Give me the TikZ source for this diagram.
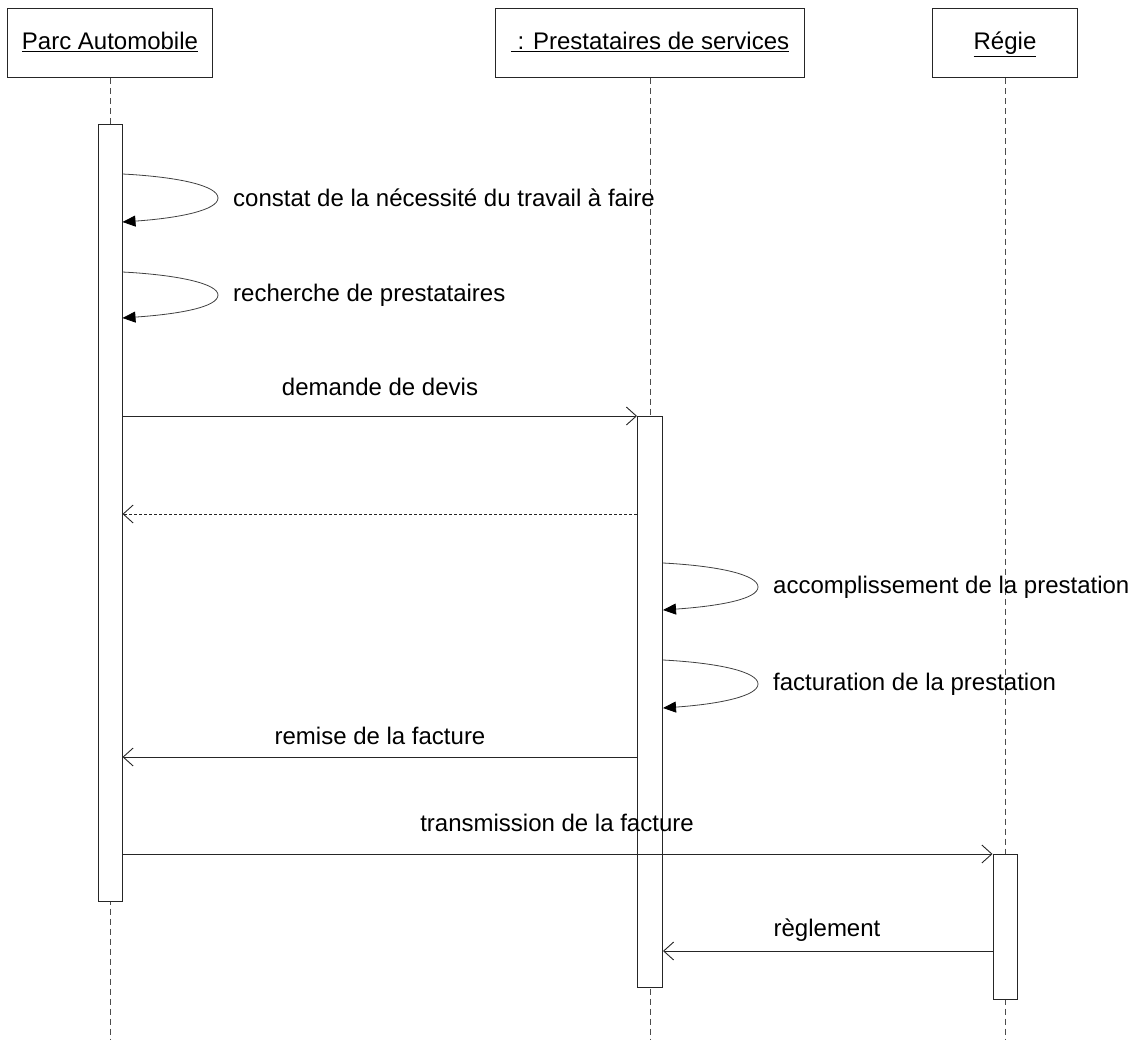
\documentclass[tikz,border=0pt]{standalone}
\usepackage{fontspec}
\setmainfont{Liberation Sans}
\usetikzlibrary{arrows.meta}
\begin{document}
\begin{tikzpicture}[x=1pt,y=-1pt,
  every node/.style={font=\fontsize{24}{28}\selectfont},
  objbox/.style={draw=black!85, line width=1pt, minimum height=69pt, inner sep=0pt, text height=17pt, text depth=5pt},
  actbar/.style={draw=black!85, fill=white, line width=1pt, minimum width=24pt, inner sep=0pt},
  lifeline/.style={draw=black!70, line width=0.8pt, dash pattern=on 6pt off 4pt},
  msg/.style={draw=black!85, line width=0.9pt, -{Straight Barb[length=10pt,width=18pt]}},
  reply/.style={msg, dash pattern=on 3pt off 2pt},
  selfmsg/.style={draw=black!75, line width=0.8pt, -{Triangle[length=13pt,width=11pt,color=black,fill=black]}},
  lbl/.style={inner sep=0pt, anchor=center},
  slbl/.style={inner sep=0pt, anchor=west}
]
\useasboundingbox (0,0) rectangle (1140,1046);

% objects
\node[objbox, minimum width=205pt] (pa) at (110,43.5) {\underline{Parc Automobile}};
\node[objbox, minimum width=309pt] (ps) at (650,43.5) {\underline{\ : Prestataires de services}};
\node[objbox, minimum width=145pt] (rg) at (1005,43.5) {\underline{Régie}};

% lifelines
\coordinate (paend) at (110,1040);
\coordinate (psend) at (650,1040);
\coordinate (rgend) at (1005,1040);
\draw[lifeline] (pa.south) -- (paend);
\draw[lifeline] (ps.south) -- (psend);
\draw[lifeline] (rg.south) -- (rgend);

% activation bars
\node[actbar, minimum height=776pt] (b1) at (110,513) {};
\node[actbar, minimum height=571pt, minimum width=25pt] (b2) at (650,701.5) {};
\node[actbar, minimum height=145pt] (b3) at (1005,926.5) {};

% self messages on Parc Automobile
\draw[selfmsg] (b1.east |- 0,174) .. controls (180,177) and (218,186) .. (218,198)
  .. controls (218,210) and (180,218) .. (b1.east |- 0,222);
\node[slbl] (l1) at (233,198) {constat de la nécessité du travail à faire};
\draw[selfmsg] (b1.east |- 0,272) .. controls (180,275) and (218,284) .. (218,295)
  .. controls (218,307) and (180,314) .. (b1.east |- 0,318);
\node[slbl] (l2) at (233,295) {recherche de prestataires};

% demande de devis
\draw[msg] (b1.east |- 0,416) -- (b2.west |- 0,416);
\node[lbl] (l3) at (380,387) {demande de devis};

% reply
\draw[reply] (b2.west |- 0,514) -- (b1.east |- 0,514);

% self messages on Prestataires
\draw[selfmsg] (b2.east |- 0,563) .. controls (720,566) and (758,575) .. (758,587)
  .. controls (758,599) and (720,606) .. (b2.east |- 0,610);
\node[slbl] (l4) at (773,587) {accomplissement de la prestation};
\draw[selfmsg] (b2.east |- 0,660) .. controls (720,663) and (758,672) .. (758,684)
  .. controls (758,696) and (720,704) .. (b2.east |- 0,708);
\node[slbl] (l5) at (773,684) {facturation de la prestation};

% remise de la facture
\draw[msg] (b2.west |- 0,757) -- (b1.east |- 0,757);
\node[lbl] (l6) at (380,736) {remise de la facture};

% transmission de la facture
\draw[msg] (b1.east |- 0,854) -- (b3.west |- 0,854);
\node[lbl] (l7) at (557,823) {transmission de la facture};

% reglement
\draw[msg] (b3.west |- 0,951) -- (b2.east |- 0,951);
\node[lbl] (l8) at (827,930) {règlement};
\end{tikzpicture}
\end{document}
